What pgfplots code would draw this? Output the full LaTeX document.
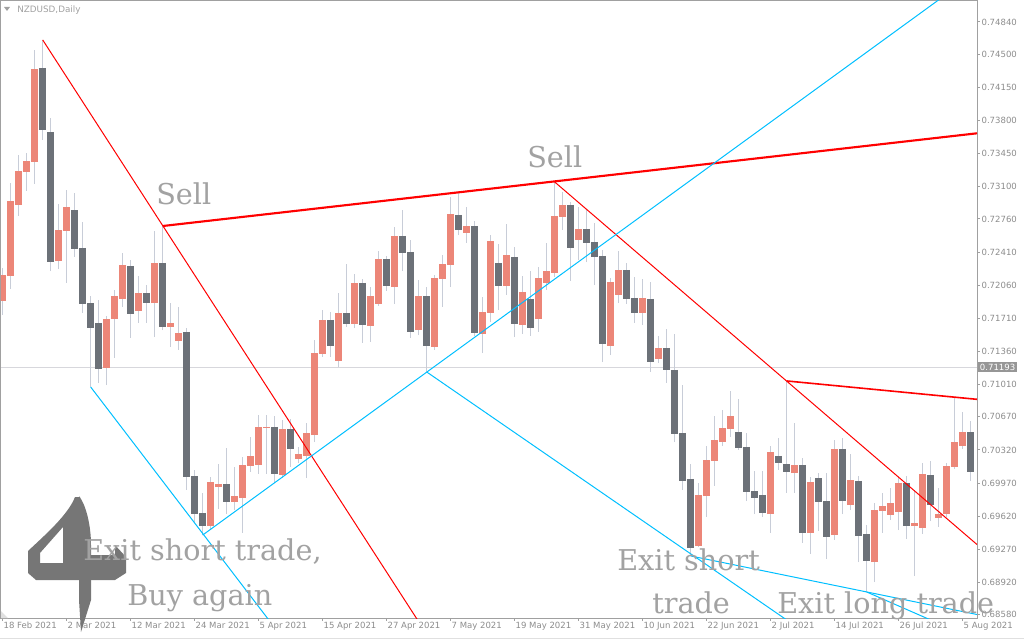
\documentclass[border=0pt]{standalone}
\usepackage{pgfplots}
\pgfplotsset{compat=1.18}
\usepackage{pgfplotstable}
\usepackage{fontspec}
\newfontfamily\dvs{DejaVu Sans}
\newfontfamily\dvserif{DejaVu Serif}
\definecolor{upc}{RGB}{236,134,120}
\definecolor{dnc}{RGB}{108,113,120}
\definecolor{wickc}{RGB}{200,205,216}
\definecolor{framec}{RGB}{160,160,160}
\definecolor{labc}{RGB}{140,140,140}
\definecolor{annc}{RGB}{162,162,162}
\definecolor{tlred}{RGB}{255,0,0}
\definecolor{tlblue}{RGB}{0,191,255}
\definecolor{pricebg}{RGB}{150,150,150}
\definecolor{hlinec}{RGB}{215,215,220}
\definecolor{logoc}{RGB}{118,118,118}

\pgfplotstableread{
i o h l c
0 0.71893 0.72242 0.71746 0.72168
1 0.72157 0.73139 0.72020 0.72949
2 0.72907 0.73435 0.72791 0.73266
3 0.73256 0.73456 0.73055 0.73372
4 0.73361 0.74544 0.73129 0.74343
5 0.74354 0.74650 0.73594 0.73699
6 0.73678 0.73826 0.72210 0.72305
7 0.72316 0.72918 0.72231 0.72643
8 0.72633 0.73066 0.72084 0.72886
9 0.72854 0.73034 0.72358 0.72443
10 0.72453 0.72728 0.71767 0.71862
11 0.71872 0.71946 0.70985 0.71608
12 0.71661 0.71904 0.71028 0.71175
13 0.71186 0.71735 0.71006 0.71703
14 0.71703 0.72010 0.71292 0.71946
15 0.71915 0.72400 0.71830 0.72274
16 0.72263 0.72326 0.71503 0.71756
17 0.71788 0.72157 0.71661 0.71978
18 0.71978 0.72062 0.71661 0.71872
19 0.71872 0.72633 0.71513 0.72295
20 0.72295 0.72685 0.71587 0.71619
21 0.71619 0.71872 0.71408 0.71661
22 0.71471 0.71830 0.71376 0.71556
23 0.71566 0.71608 0.69898 0.70035
24 0.70045 0.70109 0.69549 0.69644
25 0.69655 0.69866 0.69422 0.69517
26 0.69517 0.70035 0.69475 0.69982
27 0.69929 0.70172 0.69697 0.69961
28 0.69961 0.70341 0.69644 0.69771
29 0.69771 0.70141 0.69686 0.69834
30 0.69813 0.70246 0.69444 0.70162
31 0.70151 0.70457 0.70088 0.70257
32 0.70162 0.70690 0.70067 0.70563
33 0.70552 0.70690 0.70067 0.70563
34 0.70563 0.70679 0.69972 0.70067
35 0.70056 0.70637 0.70024 0.70542
36 0.70542 0.70647 0.70141 0.70331
37 0.70225 0.70352 0.70183 0.70278
38 0.70257 0.70605 0.70024 0.70500
39 0.70478 0.71482 0.70404 0.71344
40 0.71334 0.71798 0.71302 0.71693
41 0.71693 0.71777 0.71302 0.71418
42 0.71260 0.71978 0.71196 0.71767
43 0.71767 0.72284 0.71619 0.71651
44 0.71651 0.72179 0.71608 0.72084
45 0.72084 0.72126 0.71450 0.71640
46 0.71629 0.72041 0.71461 0.71946
47 0.71862 0.72421 0.71841 0.72337
48 0.72337 0.72369 0.71999 0.72052
49 0.72041 0.72675 0.71862 0.72580
50 0.72580 0.72854 0.72210 0.72400
51 0.72411 0.72538 0.71503 0.71566
52 0.71587 0.72115 0.71534 0.71946
53 0.71946 0.72041 0.71144 0.71418
54 0.71408 0.72168 0.71376 0.72136
55 0.72126 0.72379 0.71830 0.72284
56 0.72274 0.72992 0.72041 0.72812
57 0.72802 0.73034 0.72590 0.72643
58 0.72612 0.72886 0.72506 0.72685
59 0.72685 0.72738 0.71524 0.71556
60 0.71545 0.71936 0.71344 0.71777
61 0.71767 0.72590 0.71672 0.72527
62 0.72295 0.72495 0.71798 0.72052
63 0.72052 0.72707 0.71957 0.72379
64 0.72358 0.72464 0.71513 0.71651
65 0.71640 0.72157 0.71545 0.71989
66 0.71915 0.72210 0.71524 0.71608
67 0.71703 0.72253 0.71566 0.72136
68 0.72084 0.72506 0.72010 0.72210
69 0.72189 0.73150 0.72147 0.72791
70 0.72781 0.73045 0.72643 0.72907
71 0.72907 0.72939 0.72105 0.72453
72 0.72538 0.72886 0.72326 0.72654
73 0.72654 0.72865 0.72305 0.72506
74 0.72517 0.72717 0.72062 0.72358
75 0.72369 0.72432 0.71249 0.71439
76 0.71418 0.72136 0.71323 0.72094
77 0.71957 0.72421 0.71872 0.72221
78 0.72221 0.72295 0.71862 0.71915
79 0.71925 0.72147 0.71661 0.71767
80 0.71767 0.72126 0.71640 0.71925
81 0.71915 0.72094 0.71144 0.71249
82 0.71281 0.71524 0.71239 0.71397
83 0.71397 0.71598 0.71028 0.71165
84 0.71165 0.71545 0.70404 0.70489
85 0.70500 0.71006 0.69898 0.69993
86 0.70014 0.70172 0.69201 0.69285
87 0.69306 0.69972 0.69296 0.69845
88 0.69834 0.70362 0.69613 0.70214
89 0.70204 0.70679 0.69940 0.70426
90 0.70404 0.70742 0.70362 0.70552
91 0.70542 0.70943 0.70457 0.70679
92 0.70510 0.70859 0.70320 0.70341
93 0.70352 0.70500 0.69781 0.69877
94 0.69887 0.70098 0.69644 0.69813
95 0.69845 0.70098 0.69613 0.69655
96 0.69644 0.70362 0.69444 0.70299
97 0.70257 0.70447 0.70109 0.70183
98 0.70172 0.71049 0.69866 0.70088
99 0.70077 0.70605 0.69866 0.70162
100 0.70162 0.70235 0.69338 0.69444
101 0.69444 0.70035 0.69222 0.69982
102 0.70024 0.70077 0.69465 0.69771
103 0.69781 0.70077 0.69169 0.69401
104 0.69422 0.70426 0.69370 0.70331
105 0.70331 0.70447 0.69644 0.69781
106 0.69739 0.70278 0.69686 0.70003
107 0.69993 0.70045 0.69137 0.69412
108 0.69433 0.69528 0.68821 0.69148
109 0.69137 0.69760 0.68926 0.69686
110 0.69676 0.69866 0.69444 0.69729
111 0.69634 0.69919 0.69581 0.69760
112 0.69665 0.70035 0.69475 0.69972
113 0.69972 0.70045 0.69380 0.69517
114 0.69517 0.69898 0.68989 0.69549
115 0.69496 0.70183 0.69433 0.70067
116 0.70056 0.70204 0.69570 0.69739
117 0.69602 0.69919 0.69507 0.69644
118 0.69644 0.70183 0.69613 0.70151
119 0.70141 0.70880 0.70119 0.70404
120 0.70362 0.70721 0.70331 0.70510
121 0.70510 0.70626 0.69993 0.70088
}\ohlc

\begin{document}
\begin{tikzpicture}[x=0.75pt,y=0.75pt]
\begin{axis}[
  at={(1,22)}, anchor=south west, scale only axis,
  width=732pt, height=462.75pt,
  xmin=-0.2125, xmax=121.79, ymin=0.68546, ymax=0.75061,
  axis line style={draw=framec, line width=0.75pt},
  xtick={0,8,...,120},
  xticklabels={18 Feb 2021,2 Mar 2021,12 Mar 2021,24 Mar 2021,5 Apr 2021,15 Apr 2021,27 Apr 2021,7 May 2021,19 May 2021,31 May 2021,10 Jun 2021,22 Jun 2021,2 Jul 2021,14 Jul 2021,26 Jul 2021,5 Aug 2021},
  ytick={0.68580,0.68920,0.69270,0.69620,0.69970,0.70320,0.70670,0.71010,0.71360,0.71710,0.72060,0.72410,0.72760,0.73100,0.73450,0.73800,0.74150,0.74500,0.74840},
  yticklabels={0.68580,0.68920,0.69270,0.69620,0.69970,0.70320,0.70670,0.71010,0.71360,0.71710,0.72060,0.72410,0.72760,0.73100,0.73450,0.73800,0.74150,0.74500,0.74840},
  scaled y ticks=false,
  xtick pos=left, ytick pos=right, yticklabel pos=right,
  tick align=outside, major tick length=2.25pt,
  tick style={draw=framec, line width=0.75pt},
  xticklabel style={font=\dvs\fontsize{6.4}{7.5}\selectfont, text=labc, anchor=north west, inner sep=0.5pt},
  yticklabel style={font=\dvs\fontsize{6.4}{7.5}\selectfont, text=labc, anchor=west, inner sep=1pt},
  clip=true,
]
% current price line
\addplot[hlinec, line width=0.75pt] coordinates {(-0.2125,0.71193) (121.79,0.71193)};
% wicks
\addplot[draw=none, mark=none, error bars/.cd, y dir=plus, y explicit, error mark=none,
  error bar style={draw=wickc, line width=0.75pt}]
  table[x=i, y=l, y error expr=\thisrow{h}-\thisrow{l}] {\ohlc};
% bullish bodies
\addplot[draw=none, mark=none, error bars/.cd, y dir=plus, y explicit, error mark=none,
  error bar style={draw=upc, line width=5pt, line cap=butt}]
  table[x=i, y=o, y error expr={max(\thisrow{c}-\thisrow{o},0)}] {\ohlc};
% bearish bodies
\addplot[draw=none, mark=none, error bars/.cd, y dir=minus, y explicit, error mark=none,
  error bar style={draw=dnc, line width=5pt, line cap=butt}]
  table[x=i, y=o, y error expr={max(\thisrow{o}-\thisrow{c},0)}] {\ohlc};
% trend lines
\addplot[tlred, line width=0.75pt] coordinates {(5,0.74650) (60,0.67461)};
\addplot[tlred, line width=1.6pt] coordinates {(20,0.72685) (121.79,0.73664)};
\addplot[tlred, line width=0.75pt] coordinates {(69,0.73150) (121.79,0.69322)};
\addplot[tlred, line width=1.2pt] coordinates {(98,0.71049) (121.79,0.70855)};
\addplot[tlblue, line width=0.75pt] coordinates {(11,0.70985) (40,0.67781)};
\addplot[tlblue, line width=0.75pt] coordinates {(25,0.69422) (122,0.75380)};
\addplot[tlblue, line width=0.75pt] coordinates {(53,0.71144) (100,0.68409)};
\addplot[tlblue, line width=0.75pt] coordinates {(86,0.69201) (121.79,0.68583)};
\addplot[tlblue, line width=0.75pt] coordinates {(108,0.68821) (118,0.68451)};
\coordinate (pl) at (axis cs:121.79,0.71193);
\coordinate (SW) at (rel axis cs:0,0);
\coordinate (NE) at (rel axis cs:1,1);
\end{axis}
\pgfresetboundingbox
\path[use as bounding box] ([shift={(-1,-22)}]SW) rectangle ([shift={(47,1)}]NE);
% current price label
\node[fill=pricebg, text=white, font=\dvs\fontsize{6.4}{7.5}\selectfont, anchor=west, inner sep=1.2pt, xshift=0.8pt] at (pl) {0.71193};
\begin{scope}[shift={([shift={(-1,-22)}]SW)}, shift={(0,640)}, yscale=-1]
% title
\fill[framec] (4,7) -- (10,7) -- (7,11) -- cycle;
\node[anchor=base west, inner sep=0pt, font=\dvs\fontsize{6.6}{8}\selectfont, text=framec] at (17,13) {NZDUSD,Daily};
% corner
\fill[black!12] (1,611) -- (8,618) -- (1,618) -- cycle;
\draw[black!12, line width=0.75pt] (0,638.5) -- (1024,638.5);
% logo
\fill[logoc, even odd rule] (75,497) .. controls (68,515) and (45,535) .. (28,551) -- (28,573) -- (36,580) -- (80,580) -- (80,497) -- cycle
  (40,553) -- (63,527) -- (63,563) -- (40,563) -- cycle;
\fill[logoc] (79,496) .. controls (86,505) and (91,525) .. (91,545) -- (91,600) -- (81,632) -- (79,600) -- cycle;
\fill[logoc] (90,555) -- (115,555) -- (115,545) -- (126,557) -- (126,573) -- (115,580) -- (90,580) -- cycle;
% annotations
\begin{scope}[every node/.style={anchor=base west, inner sep=0pt, text=annc, font=\dvserif\fontsize{21.5}{24}\selectfont}]
\node at (156,205) {Sell};
\node at (527,168) {Sell};
\node at (83,560) {Exit short trade,};
\node at (127,605) {Buy again};
\node at (617,570) {Exit short};
\node at (652,613) {trade};
\node at (777,613) {Exit long trade};
\end{scope}
\end{scope}
\end{tikzpicture}
\end{document}
